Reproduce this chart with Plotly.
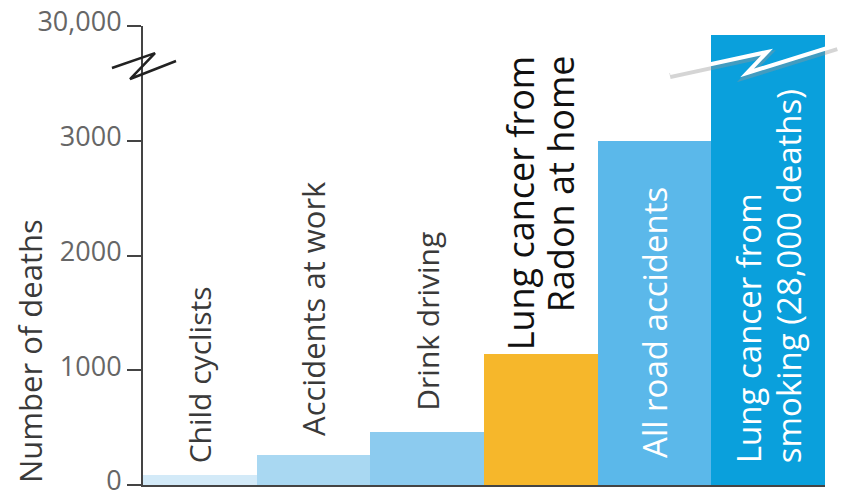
import plotly.graph_objects as go

categories = ["Child cyclists", "Accidents at work", "Drink driving",
              "Lung cancer from Radon at home", "All road accidents",
              "Lung cancer from smoking (28,000 deaths)"]
deaths = [85, 260, 460, 1140, 3000, 28000]
bar_colors = ["#d3eaf8", "#a9d8f2", "#8ccbef", "#f6b72b", "#5bb8ea", "#0aa0dc"]
label_lines = [["Child cyclists"], ["Accidents at work"], ["Drink driving"],
               ["Lung cancer from", "Radon at home"], ["All road accidents"],
               ["Lung cancer from", "smoking (28,000 deaths)"]]
label_base = [[174], [410], [627], [1159, 1490], [218], [174, 174]]
label_colors = ["#3a3a3a", "#3a3a3a", "#3a3a3a", "#111111", "#ffffff", "#ffffff"]
label_sizes = [30, 31, 30, 36, 33, 33]
tick_values = [0, 1000, 2000, 3000, 30000]
tick_labels = ["0", "1000", "2000", "3000", "30,000"]
y_title = "Number of deaths"

BREAK_LOW, BREAK_HIGH, BREAK_SPAN = 3000, 30000, 1000
LINE_GAP = 40  # px between the two lines of a label


def to_display(v):
    if v <= BREAK_LOW:
        return v
    return BREAK_LOW + (v - BREAK_LOW) / (BREAK_HIGH - BREAK_LOW) * BREAK_SPAN


xs = list(range(len(categories)))
fig = go.Figure()
fig.add_trace(go.Bar(
    x=xs, y=[to_display(v) for v in deaths], width=1.0,
    marker=dict(color=bar_colors, line=dict(width=0)),
    customdata=deaths, hovertemplate="%{customdata}<extra></extra>",
))

for i, lines in enumerate(label_lines):
    n = len(lines)
    for j, line in enumerate(lines):
        shift = (j - (n - 1) / 2) * LINE_GAP
        fig.add_annotation(
            x=i, y=to_display(label_base[i][j]), xref="x", yref="y", text=line,
            textangle=-90, showarrow=False, xanchor="center", yanchor="bottom",
            xshift=shift,
            font=dict(family="Open Sans", size=label_sizes[i], color=label_colors[i]),
        )

fig.add_annotation(
    x=-0.1657, y=0, xref="paper", yref="paper", text=y_title, textangle=-90,
    showarrow=False, xanchor="center", yanchor="bottom",
    font=dict(family="Open Sans", size=31, color="#3a3a3a"),
)

# axis break zigzag on the y axis
fig.add_shape(type="path", xref="paper", yref="paper",
              path="M -0.0455 0.9085 L 0.0176 0.941 L -0.019 0.8845 L 0.0484 0.9237",
              line=dict(color="#222222", width=2.5))
# break across the tall bar: shadow then white
fig.add_shape(type="path", xref="paper", yref="paper",
              path="M 0.7727 0.891 L 0.915 0.9368 L 0.8856 0.891 L 1.0176 0.952",
              line=dict(color="rgba(150,150,150,0.4)", width=6))
fig.add_shape(type="path", xref="paper", yref="paper",
              path="M 0.7727 0.8976 L 0.915 0.9434 L 0.8856 0.8976 L 1.0176 0.9586",
              line=dict(color="#ffffff", width=4))

fig.update_layout(
    width=841, height=495,
    margin=dict(l=143, r=16, t=26, b=10, autoexpand=False),
    paper_bgcolor="white", plot_bgcolor="white",
    showlegend=False, bargap=0,
    font=dict(family="Open Sans"),
    xaxis=dict(range=[-0.5, 5.5], showticklabels=False, ticks="",
               showgrid=False, zeroline=False, showline=True, automargin=False,
               linecolor="#444444", linewidth=2),
    yaxis=dict(range=[0, to_display(30000)], tickmode="array",
               tickvals=[to_display(v) for v in tick_values], ticktext=tick_labels,
               ticks="outside", ticklen=14, tickwidth=2, tickcolor="#444444",
               showline=True, linecolor="#444444", linewidth=2, automargin=False,
               showgrid=False, zeroline=False, ticklabeloverflow="allow",
               ticklabelshift=-4,
               tickfont=dict(family="Open Sans", size=27, color="#666666")),
)

fig.write_html("out.html")
